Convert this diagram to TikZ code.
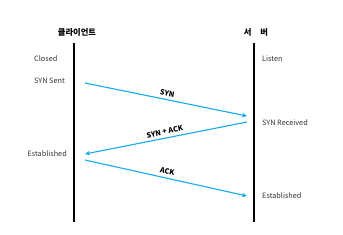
\documentclass[tikz,border=0pt]{standalone}
\usepackage{fontspec}
\setmainfont{Noto Sans CJK KR}
\usetikzlibrary{arrows.meta}
\definecolor{msgblue}{RGB}{20,170,235}
\begin{document}
\begin{tikzpicture}[x=1pt,y=-1pt,
  lifeline/.style={line width=1.5pt,black},
  msg/.style={line width=1.1pt,msgblue,-{Stealth[length=5pt,width=4.5pt]}},
  state/.style={font=\fontsize{7.3}{8}\selectfont,text=black!80,inner sep=0pt},
  title/.style={font=\fontsize{8.3}{9}\selectfont\bfseries,inner sep=0pt},
  msglabel/.style={font=\fontsize{7.3}{8}\selectfont\bfseries,black,sloped,above,inner sep=3pt}]
\useasboundingbox (0,0) rectangle (343,234);
\coordinate (ctop) at (74,43);
\coordinate (cbot) at (74,222);
\coordinate (stop) at (254,43);
\coordinate (sbot) at (254,222);
\draw[lifeline] (ctop) -- (cbot);
\draw[lifeline] (stop) -- (sbot);
\node[title] (client) at (77,32) {클라이언트};
\node[title] (server) at (256,32) {서\hspace{9pt}버};
\node[state,anchor=west] (closed) at (34,59) {Closed};
\node[state,anchor=west] (synsent) at (34,81) {SYN Sent};
\node[state,anchor=east] (estc) at (67,154) {Established};
\node[state,anchor=west] (listen) at (262,59) {Listen};
\node[state,anchor=west] (synrec) at (262,123) {SYN Received};
\node[state,anchor=west] (ests) at (262,196) {Established};
\coordinate (a1s) at (85,83);
\coordinate (a1e) at (247,116);
\coordinate (a2s) at (247,122);
\coordinate (a2e) at (85,154);
\coordinate (a3s) at (85,160);
\coordinate (a3e) at (247,196);
\draw[msg] (a1s) -- node[msglabel] (l1) {SYN} (a1e);
\draw[msg] (a2s) -- node[msglabel] (l2) {SYN + ACK} (a2e);
\draw[msg] (a3s) -- node[msglabel] (l3) {ACK} (a3e);
\end{tikzpicture}
\end{document}
